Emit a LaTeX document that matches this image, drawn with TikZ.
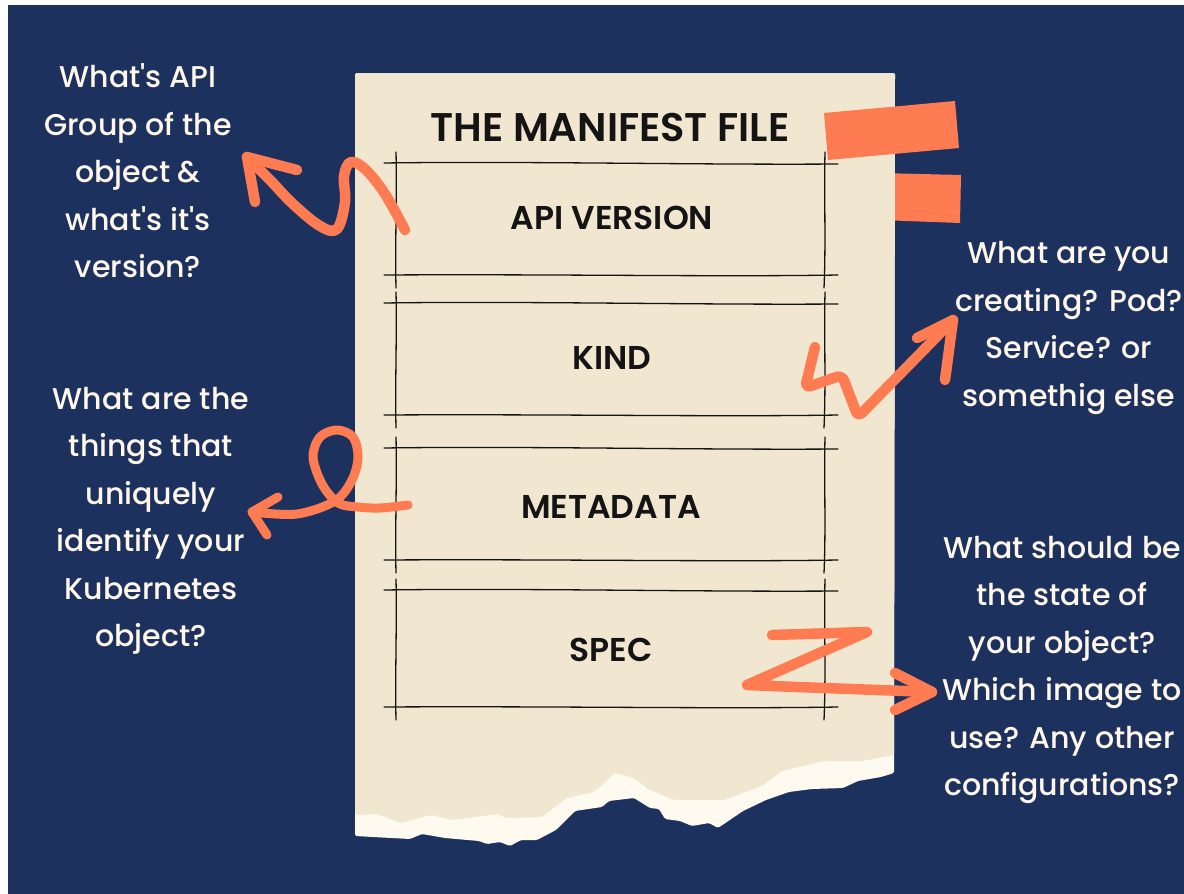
\documentclass[tikz,border=0pt]{standalone}
\usepackage{fontspec}
\newfontfamily\handfont{Poppins}[UprightFont=* Medium, BoldFont=* SemiBold]
\definecolor{navy}{HTML}{1D315E}
\definecolor{paper}{HTML}{F1E7D1}
\definecolor{paperedge}{HTML}{FEFAEF}
\definecolor{tape}{HTML}{FF7B52}
\definecolor{chalk}{HTML}{FFF8EA}
\definecolor{ink}{HTML}{141414}
\tikzset{
  sketch/.style={draw=ink, line width=1.3pt, line cap=round},
  brush/.style={draw=tape, line width=10.5pt, line cap=round, line join=round},
  note/.style={text=chalk, align=center, inner sep=0pt,
    font=\handfont\fontsize{30}{47.5}\selectfont},
  field/.style={text=ink, inner sep=0pt, font=\handfont\bfseries\fontsize{33}{38}\selectfont},
  heading/.style={text=ink, inner sep=0pt, font=\handfont\bfseries\fontsize{40}{46}\selectfont},
}
\begin{document}
\begin{tikzpicture}[x=1pt, y=-1pt]
\useasboundingbox (0,0) rectangle (1184,894);
\fill[white] (0,0) rectangle (1184,894);
\fill[navy] (8,5) rectangle (1184,894);

% lower tape, tucked behind the sheet
\fill[tape] (880,173) -- (961,175) -- (960,223) -- (880,220) -- cycle;

% sheet with torn bottom edge
\fill[paperedge, rounded corners=1.5pt] (355,73) -- (895,73) -- (894,773) -- (881,777) -- (858,781) -- (843,788)
  -- (812,789) -- (789,792) -- (766,800) -- (743,811) -- (718,828) -- (709,823) -- (692,826)
  -- (680,821) -- (665,819) -- (659,809) -- (650,808) -- (634,798) -- (609,801) -- (602,807)
  -- (575,811) -- (556,830) -- (537,840) -- (521,840) -- (510,846) -- (500,842) -- (487,844)
  -- (479,841) -- (445,838) -- (422,834) -- (410,839) -- (355,836) -- cycle;
\fill[paper, rounded corners=1.5pt] (355,73) -- (895,73) -- (894,755) -- (862,761) -- (824,761)
  -- (782,771) -- (762,786) -- (724,800) -- (674,800) -- (648,789) -- (634,778) -- (615,773)
  -- (594,792) -- (567,798) -- (542,817) -- (506,818) -- (498,814) -- (452,820) -- (431,815)
  -- (401,823) -- (376,814) -- (355,815) -- cycle;

% hand-drawn field boxes
\foreach \t/\b in {163/275, 303/415, 448/560, 590/707} {
  \draw[sketch] (384,\t) .. controls (520,\t-2) and (700,\t+2) .. (838,\t+1);
  \draw[sketch] (384,\b) .. controls (550,\b-1) and (720,\b+2) .. (838,\b);
  \draw[sketch] (396,\t-11) .. controls (397,\t+30) and (395,\b-30) .. (396,\b+13);
  \draw[sketch] (825,\t-11) .. controls (824,\t+30) and (826,\b-30) .. (824,\b+13);
}

% upper tape over the sheet
\fill[tape] (824,113) -- (955,101) -- (959,148) -- (828,160) -- cycle;

\node[heading] (title) at (610,127) {THE MANIFEST FILE};
\node[field] (apiv) at (612,218) {API VERSION};
\node[field] (kind) at (612,358) {KIND};
\node[field] (meta) at (611,507) {METADATA};
\node[field] (spec) at (611,650) {SPEC};

\node[note] (qapi) at (138,171) {What's API\\Group of the\\object \&\\what's it's\\version?};
\node[note] (qkind) at (1069,328) {What are you\\creating? Pod?\\Service? or\\somethig else};
\node[note] (qmeta) at (151,521) {What are the\\things that\\uniquely\\identify your\\Kubernetes\\object?};
\node[note] (qspec) at (1062,670) {What should be\\the state of\\your object?\\Which image to\\use? Any other\\configurations?};

% curly arrow: API VERSION
\coordinate (a1) at (247,157);
\draw[brush] plot[smooth, tension=0.6] coordinates {(405,230) (385,194) (366,170) (351,162) (344,176) (345,202) (337,229) (320,226) (293,204) (270,180) (a1)};
\draw[brush] (297,170) -- (a1) -- (255,202);

% zig-zag arrow: KIND
\coordinate (a2) at (953,320);
\draw[brush, rounded corners=6pt] (815,347) -- (805,388) -- (842,375) -- (858,417) -- (a2);
\draw[brush] (917,338) -- (a2) -- (945,380);

% looped arrow: METADATA
\coordinate (a3) at (252,512);
\draw[brush, line width=9pt] plot[smooth, tension=0.55] coordinates {(408,505) (380,508) (358,507) (338,503) (322,484) (313,457) (320,437) (337,430) (353,437) (358,457) (352,480) (335,501) (297,514) (a3)};
\draw[brush, line width=9pt] (278,497) -- (a3) -- (267,535);

% Z-shaped arrow: SPEC
\coordinate (a4) at (932,692);
\draw[brush] (772,635) -- (867,632) -- (747,685) -- (797,687) -- (a4);
\draw[brush] (895,673) -- (a4) -- (895,710);
\end{tikzpicture}
\end{document}
